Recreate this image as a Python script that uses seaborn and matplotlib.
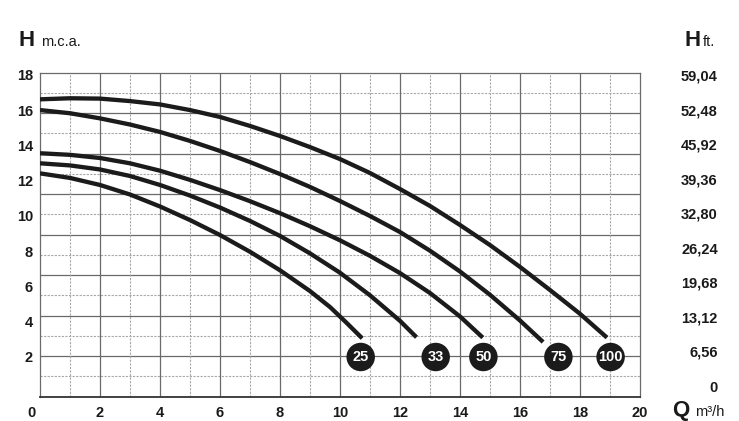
import numpy as np
import pandas as pd
import matplotlib
matplotlib.use("Agg")
import matplotlib.pyplot as plt
import matplotlib.transforms as mtransforms
import seaborn as sns

# curve data: Q (m3/h) -> H (m.c.a.)
q_100 = [0, 1, 2, 3, 4, 5, 6, 7, 8, 9, 10, 11, 12, 13, 14, 15, 16, 17, 18, 18.9]
h_100 = [16.62, 16.68, 16.66, 16.52, 16.33, 16.01, 15.62, 15.11, 14.54, 13.91,
         13.23, 12.44, 11.53, 10.57, 9.49, 8.35, 7.11, 5.80, 4.45, 3.10]

q_75 = [0, 1, 2, 3, 4, 5, 6, 7, 8, 9, 10, 11, 12, 13, 14, 15, 16, 16.77]
h_75 = [16.01, 15.83, 15.54, 15.19, 14.77, 14.26, 13.69, 13.06, 12.38, 11.65,
        10.85, 10.00, 9.09, 8.03, 6.85, 5.53, 4.07, 2.85]

q_50 = [0, 1, 2, 3, 4, 5, 6, 7, 8, 9, 10, 11, 12, 13, 14, 14.76]
h_50 = [13.56, 13.47, 13.29, 12.99, 12.57, 12.05, 11.47, 10.84, 10.16, 9.42,
        8.62, 7.74, 6.76, 5.63, 4.30, 3.10]

q_33 = [0, 1, 2, 3, 4, 5, 6, 7, 8, 9, 10, 11, 12, 12.55]
h_33 = [12.99, 12.87, 12.64, 12.27, 11.76, 11.16, 10.48, 9.72, 8.87, 7.88,
        6.78, 5.50, 4.05, 3.12]

q_25 = [0, 1, 2, 3, 4, 5, 6, 7, 8, 9, 9.67, 10.2, 10.74]
h_25 = [12.42, 12.16, 11.76, 11.22, 10.54, 9.77, 8.92, 7.97, 6.92, 5.74, 4.83,
        3.97, 3.06]

# circle badges
badge_labels = ["25", "33", "50", "75", "100"]
badge_q = [10.69, 13.19, 14.78, 17.28, 19.02]
badge_h = [2, 2, 2, 2, 2]

left_ticks = [2, 4, 6, 8, 10, 12, 14, 16, 18]
right_ticks = [0, 6.56, 13.12, 19.68, 26.24, 32.80, 39.36, 45.92, 52.48, 59.04]
x_ticks = [0, 2, 4, 6, 8, 10, 12, 14, 16, 18, 20]

curves = {"100": (q_100, h_100), "75": (q_75, h_75), "50": (q_50, h_50),
          "33": (q_33, h_33), "25": (q_25, h_25)}

sns.set_style("white")
plt.rcParams["font.family"] = ["Liberation Sans", "DejaVu Sans"]

W, H = 739, 421
fig = plt.figure(figsize=(W / 100, H / 100), dpi=100)
ax = fig.add_axes([40 / W, (H - 396.7) / H, 600 / W, 324 / H])

ylo = 2 - (396.7 - 357) / 17.625
yhi = 18 + (75 - 72.7) / 17.625
ax.set_xlim(0, 20)
ax.set_ylim(ylo, yhi)

# grid: 16 rows x 20 columns, solid every 2nd line, dotted in between
for k in range(1, 16):
    yy = ylo + k * (yhi - ylo) / 16
    if k % 2 == 0:
        ax.axhline(yy, color="#6a6a6a", lw=0.9, zorder=1)
    else:
        ax.axhline(yy, color="#a8a8a8", lw=0.8, ls=(0, (2, 1.2)), zorder=1)
for k in range(1, 20):
    if k % 2 == 0:
        ax.axvline(k, color="#6a6a6a", lw=0.9, zorder=1)
    else:
        ax.axvline(k, color="#a8a8a8", lw=0.8, ls=(0, (2, 1.2)), zorder=1)

for name, (q, h) in curves.items():
    df = pd.DataFrame({"Q": q, "H": h})
    sns.lineplot(data=df, x="Q", y="H", ax=ax, color="#1b1b1b", lw=3.1,
                 sort=False, zorder=3, solid_capstyle="butt",
                 solid_joinstyle="round")

sns.scatterplot(x=badge_q, y=badge_h, ax=ax, s=420, color="#1b1b1b",
                edgecolor="none", zorder=4, legend=False)
for lab, q, h in zip(badge_labels, badge_q, badge_h):
    ax.text(q, h, lab, color="white", fontsize=10.5, fontweight="bold",
            ha="center", va="center", zorder=5,
            family=["Liberation Sans Narrow", "Liberation Sans", "DejaVu Sans"])

for side in ["top", "right", "left"]:
    ax.spines[side].set_color("#6a6a6a")
    ax.spines[side].set_linewidth(0.9)
ax.spines["bottom"].set_color("#333333")
ax.spines["bottom"].set_linewidth(1.3)

ax.set_xticks(x_ticks)
ax.set_xticklabels([str(v) for v in x_ticks])
ax.set_yticks(left_ticks)
ax.set_yticklabels([str(v) for v in left_ticks])
ax.tick_params(axis="both", length=0, labelsize=10.5, colors="#1a1a1a")
ax.tick_params(axis="x", pad=6.5)
ax.tick_params(axis="y", pad=5)
for t in ax.get_xticklabels() + ax.get_yticklabels():
    t.set_fontweight("bold")
ax.set_xlabel("")
ax.set_ylabel("")
# the "0" under the origin sits a little to the left
lab0 = ax.get_xticklabels()[0]
lab0.set_transform(lab0.get_transform() +
                   mtransforms.ScaledTranslation(-8 / 100, 0, fig.dpi_scale_trans))

# right axis in feet
ax2 = ax.twinx()
ax2.set_ylim(-(396.7 - 386) / 5.273, 59.04 + (75 - 72.7) / 5.273)
ax2.set_yticks(right_ticks)
ax2.set_yticklabels([f"{v:.2f}".replace(".", ",") if v else "0" for v in right_ticks])
ax2.tick_params(axis="y", length=0, labelsize=10.5, pad=56, colors="#1a1a1a")
for t in ax2.get_yticklabels():
    t.set_fontweight("bold")
    t.set_ha("right")
for s in ax2.spines.values():
    s.set_visible(False)

# axis titles
yb = (H - 46) / H
fig.text(18 / W, yb, "H", fontsize=16, fontweight="bold", va="baseline", color="#1a1a1a")
fig.text(41 / W, yb, "m.c.a.", fontsize=10.5, va="baseline", color="#1a1a1a")
fig.text(684 / W, yb, "H", fontsize=16, fontweight="bold", va="baseline", color="#1a1a1a")
fig.text(703 / W, yb, "ft.", fontsize=10.5, va="baseline", color="#1a1a1a")
yq = (H - 416) / H
fig.text(672 / W, yq, "Q", fontsize=16, fontweight="bold", va="baseline", color="#1a1a1a")
fig.text(695 / W, yq, "m³/h", fontsize=10.5, va="baseline", color="#1a1a1a")

fig.savefig("out.png", dpi=100)
